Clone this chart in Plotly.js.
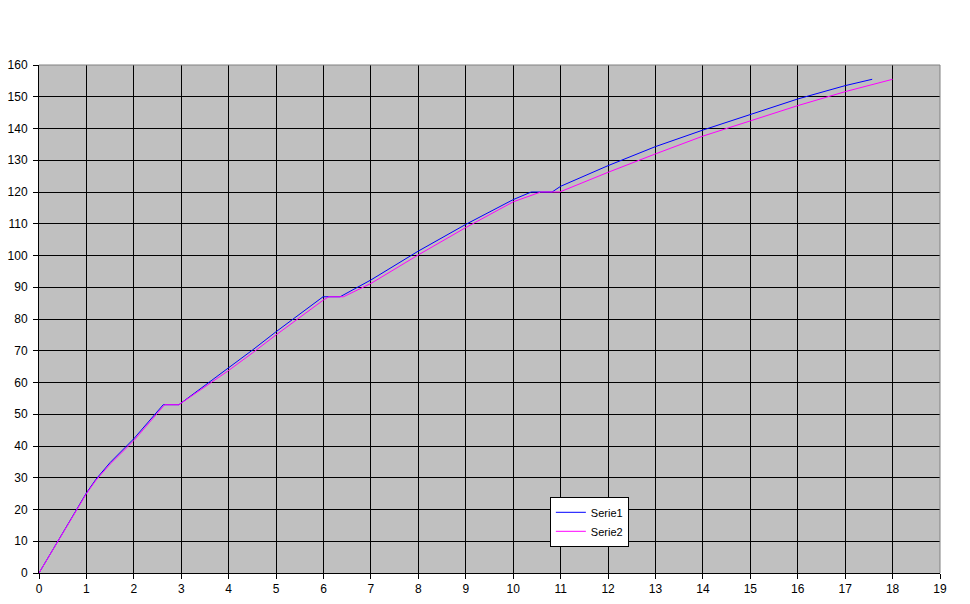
<!DOCTYPE html>
<html>
<head>
<meta charset="utf-8">
<script src="https://cdn.plot.ly/plotly-3.0.1.min.js"></script>
<style>html,body{margin:0;padding:0;background:#fff;}#chart{width:970px;height:604px;}</style>
</head>
<body>
<div id="chart"></div>
<script>
// Serie1 (blue)
const serie1X = [0, 1.0, 1.2, 1.5, 2.0, 2.3, 2.62, 2.95, 4.0, 4.5, 5.0, 5.99, 6.35, 7.0, 8.0, 9.0, 10.0, 10.38, 10.82, 11.0, 12.0, 13.0, 14.0, 15.0, 16.0, 17.0, 17.57];
const serie1Y = [0, 25.2, 29.5, 34.8, 42.3, 47.5, 53, 53, 64.5, 70.2, 76.0, 87, 87, 92.3, 101.4, 109.8, 117.6, 120, 120, 121.8, 128.3, 134.3, 139.5, 144.3, 149.3, 153.5, 155.5];
// Serie2 (magenta)
const serie2X = [0, 1.0, 1.2, 1.5, 2.0, 2.3, 2.65, 2.95, 4.0, 4.5, 5.0, 6.0, 6.11, 6.42, 7.0, 8.0, 9.0, 10.0, 10.58, 10.98, 12.0, 13.0, 14.0, 15.0, 16.0, 17.0, 18.0];
const serie2Y = [0, 25.0, 29.2, 34.3, 41.7, 47.0, 53, 53, 63.8, 69.3, 75.0, 86.0, 87, 87, 91.2, 100.2, 108.8, 116.9, 120, 120, 126.2, 132.0, 137.6, 142.4, 147.2, 151.6, 155.5];
const seriesNames = ["Serie1", "Serie2"];
const xTicks = [0,1,2,3,4,5,6,7,8,9,10,11,12,13,14,15,16,17,18,19];
const yTicks = [0,10,20,30,40,50,60,70,80,90,100,110,120,130,140,150,160];

const traces = [
  {x: serie1X, y: serie1Y, name: seriesNames[0], type: 'scatter', mode: 'lines', line: {color: '#0000FF', width: 1}},
  {x: serie2X, y: serie2Y, name: seriesNames[1], type: 'scatter', mode: 'lines', line: {color: '#FF00FF', width: 1}}
];

const fontFam = 'Liberation Sans, Arial, sans-serif';
const layout = {
  width: 970, height: 604,
  margin: {l: 39, r: 30, t: 65, b: 31},
  paper_bgcolor: '#FFFFFF',
  plot_bgcolor: '#C0C0C0',
  font: {family: fontFam, size: 12, color: '#000'},
  showlegend: true,
  legend: {
    x: 0.567, y: 0.15, xanchor: 'left', yanchor: 'top',
    bgcolor: '#FFFFFF', bordercolor: '#000000', borderwidth: 1,
    font: {family: fontFam, size: 11, color: '#000'},
    itemwidth: 30, tracegroupgap: 0
  },
  xaxis: {
    range: [0, 19], tickmode: 'array', tickvals: xTicks, ticktext: xTicks.map(String),
    showgrid: true, gridcolor: '#000000', gridwidth: 1,
    showline: true, linecolor: '#000000', linewidth: 1,
    ticks: 'outside', ticklen: 5, tickcolor: '#000', zeroline: false,
    fixedrange: true
  },
  yaxis: {
    range: [0, 160], tickmode: 'array', tickvals: yTicks, ticktext: yTicks.map(String),
    showgrid: true, gridcolor: '#000000', gridwidth: 1,
    showline: true, linecolor: '#000000', linewidth: 1,
    ticks: 'outside', ticklen: 5, tickcolor: '#000', zeroline: false,
    ticklabelstandoff: 3,
    fixedrange: true
  },
  shapes: [
    {type: 'line', xref: 'paper', yref: 'paper', x0: 0, x1: 1, y0: 1, y1: 1, line: {color: '#808080', width: 1}, layer: 'above'},
    {type: 'line', xref: 'paper', yref: 'paper', x0: 1, x1: 1, y0: 0, y1: 1, line: {color: '#808080', width: 1}, layer: 'above'}
  ]
};

Plotly.newPlot('chart', traces, layout, {displayModeBar: false, staticPlot: true});
</script>
</body>
</html>
